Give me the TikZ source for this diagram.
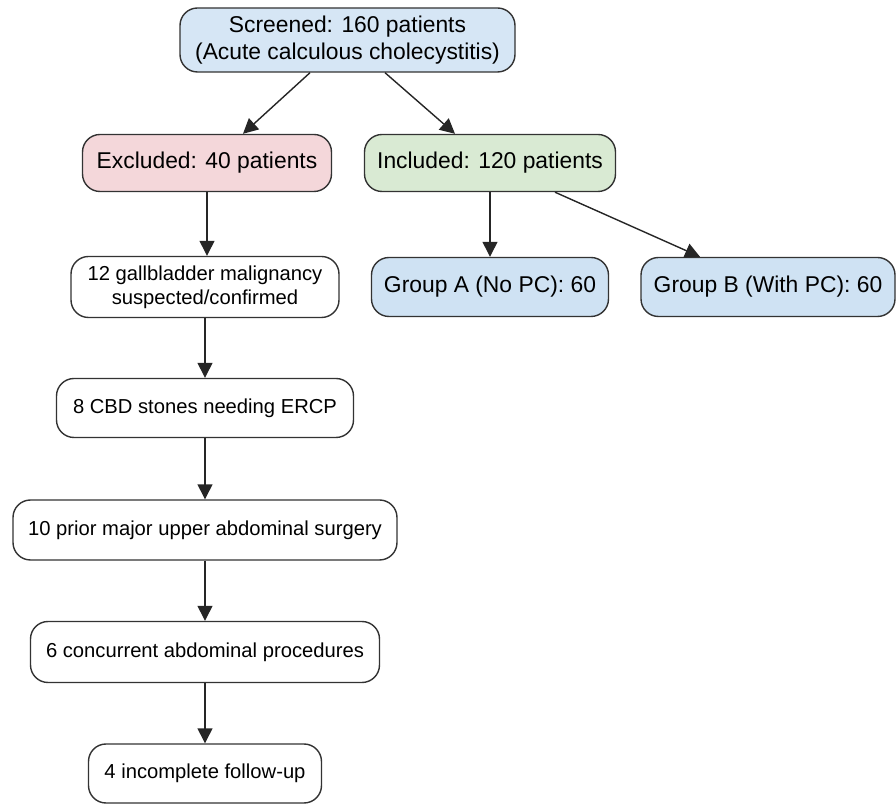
\documentclass[tikz,border=0pt]{standalone}
\usepackage{fontspec}
\setmainfont{Liberation Sans}
\usepackage{xcolor}
\usepackage{tikz}
\usetikzlibrary{arrows.meta, calc}

\definecolor{scrblue}{RGB}{214,230,245}
\definecolor{grpblue}{RGB}{207,226,243}
\definecolor{excpink}{RGB}{244,215,218}
\definecolor{incgreen}{RGB}{217,234,211}

\begin{document}
\begin{tikzpicture}[
    box/.style={draw=black!80, line width=0.8pt, rounded corners=0.35cm, align=center, inner sep=0pt, font=\fontsize{13}{15}\selectfont},
    exbox/.style={box, fill=white, font=\fontsize{11.5}{13.5}\selectfont},
    arr/.style={-{Triangle[length=8.5pt,width=8.5pt]}, line width=0.8pt, black!85}
]
    % Page frame (896x804)
    \useasboundingbox (0,0) rectangle (17.92,16.08);

    % Top level
    \node[box, fill=scrblue, minimum width=6.7cm, minimum height=1.28cm] (scr) at (6.95,15.28) {Screened: 160 patients\\(Acute calculous cholecystitis)};

    % Second level
    \node[box, fill=excpink, minimum width=4.98cm, minimum height=1.14cm] (exc) at (4.14,12.82) {Excluded: 40 patients};
    \node[box, fill=incgreen, minimum width=5.02cm, minimum height=1.14cm] (inc) at (9.80,12.82) {Included: 120 patients};

    % Groups
    \node[box, fill=grpblue, minimum width=4.74cm, minimum height=1.18cm] (grpA) at (9.80,10.34) {Group A (No PC): 60};
    \node[box, fill=grpblue, minimum width=5.08cm, minimum height=1.18cm] (grpB) at (15.36,10.34) {Group B (With PC): 60};

    % Exclusion reasons
    \node[exbox, minimum width=5.36cm, minimum height=1.22cm] (ex1) at (4.10,10.34) {12 gallbladder malignancy\\suspected/confirmed};
    \node[exbox, minimum width=5.94cm, minimum height=1.18cm] (ex2) at (4.10,7.92) {8 CBD stones needing ERCP};
    \node[exbox, minimum width=7.68cm, minimum height=1.20cm] (ex3) at (4.10,5.48) {10 prior major upper abdominal surgery};
    \node[exbox, minimum width=6.98cm, minimum height=1.22cm] (ex4) at (4.10,3.04) {6 concurrent abdominal procedures};
    \node[exbox, minimum width=4.66cm, minimum height=1.18cm] (ex5) at (4.10,0.61) {4 incomplete follow-up};

    % Arrows
    \draw[arr] ([xshift=-0.75cm]scr.south) -- ([xshift=0.72cm]exc.north);
    \draw[arr] ([xshift=0.75cm]scr.south) -- ([xshift=-0.70cm]inc.north);
    \draw[arr] (inc.south) -- (grpA.north);
    \draw[arr] ([xshift=1.30cm]inc.south) -- ([xshift=-1.36cm]grpB.north);

    \draw[arr] (exc.south) -- (exc.south |- ex1.north);
    \draw[arr] (ex1) -- (ex2);
    \draw[arr] (ex2) -- (ex3);
    \draw[arr] (ex3) -- (ex4);
    \draw[arr] (ex4) -- (ex5);
\end{tikzpicture}
\end{document}
